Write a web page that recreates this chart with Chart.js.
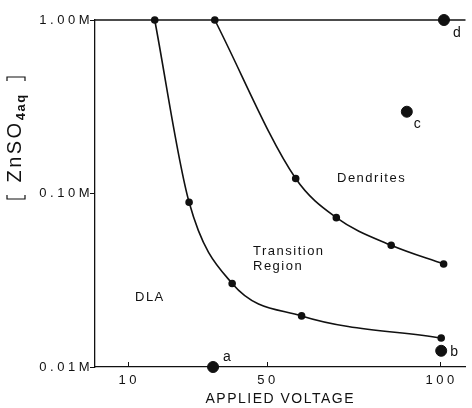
<!DOCTYPE html>
<html lang="en">
<head>
  <meta charset="UTF-8">
  <title>ZnSO4 growth regimes vs applied voltage</title>
  <script src="https://cdn.jsdelivr.net/npm/chart.js"></script>
  <style>
    body { margin: 0; background: #fff; }
    #wrap { width: 472px; height: 408px; }
  </style>
</head>
<body>
  <div id="wrap"><canvas id="regimeChart" width="472" height="408"></canvas></div>

  <script>
    // boundary DLA / transition region
    const dlaVolts = [17.8, 27.7, 40.1, 60.1, 100.3];
    const dlaConc = [1.0, 0.089, 0.0303, 0.0197, 0.0147];
    // boundary transition region / dendrites
    const dendVolts = [35.1, 58.4, 70.1, 85.9, 101.0];
    const dendConc = [1.0, 0.122, 0.0726, 0.0503, 0.0392];
    // labelled samples
    const sampleIds = ['a', 'b', 'c', 'd'];
    const sampleVolts = [34.6, 100.3, 90.4, 101.1];
    const sampleConc = [0.01, 0.0124, 0.296, 1.0];
    // axes
    const xTicks = [10, 50, 100];
    const xTickLabels = ['10', '50', '100'];
    const yTicks = [0.01, 0.1, 1];
    const yTickLabels = ['0.01M', '0.10M', '1.00M'];

    const ink = '#111';
    const font = '"Liberation Sans", Arial, sans-serif';

    const toPts = (xs, ys) => xs.map((x, i) => ({ x: x, y: ys[i] }));

    // old typewriter-ish lettering is widely tracked
    const tracking = {
      id: 'tracking',
      beforeDraw(chart) { chart.ctx.letterSpacing = '1.5px'; }
    };

    // extra drawing: top line, ticks, tick labels, region / point labels, y title
    const extras = {
      id: 'extras',
      afterDraw(chart) {
        const { ctx, chartArea, scales } = chart;
        const xs = scales.x, ys = scales.y;
        ctx.save();
        ctx.strokeStyle = ink;
        ctx.fillStyle = ink;
        ctx.lineWidth = 1.3;

        // 1.00M line across the top
        const yTop = ys.getPixelForValue(1);
        ctx.beginPath();
        ctx.moveTo(chartArea.left, yTop);
        ctx.lineTo(chartArea.right, yTop);
        ctx.stroke();

        // x ticks point up into the plot
        ctx.lineWidth = 1;
        xTicks.forEach(v => {
          const px = Math.round(xs.getPixelForValue(v)) + 0.5;
          ctx.beginPath();
          ctx.moveTo(px, chartArea.bottom);
          ctx.lineTo(px, chartArea.bottom - 5);
          ctx.stroke();
        });

        // tick labels
        ctx.letterSpacing = '3.5px';
        ctx.font = '13px ' + font;
        ctx.textBaseline = 'middle';
        ctx.textAlign = 'center';
        xTicks.forEach((v, i) => {
          ctx.fillText(xTickLabels[i], xs.getPixelForValue(v) + 1.5, 380);
        });
        ctx.textAlign = 'right';
        yTicks.forEach((v, i) => {
          ctx.fillText(yTickLabels[i], chartArea.left - 2, ys.getPixelForValue(v));
        });

        // sample letters
        ctx.letterSpacing = '1.5px';
        ctx.font = '14px ' + font;
        ctx.textAlign = 'left';
        const offs = { a: [10, -10], b: [9, 1], c: [7, 12], d: [9, 13] };
        const meta = chart.getDatasetMeta(2);
        meta.data.forEach((el, i) => {
          const o = offs[sampleIds[i]];
          ctx.fillText(sampleIds[i], el.x + o[0], el.y + o[1]);
        });

        // region names
        ctx.font = '13px ' + font;
        ctx.fillText('Dendrites', 337, 178);
        ctx.fillText('Transition', 253, 251);
        ctx.fillText('Region', 253, 266);
        ctx.fillText('DLA', 135, 297);

        // y axis title with subscript
        ctx.translate(16, 138);
        ctx.rotate(-Math.PI / 2);
        const big = '20px ' + font, small = 'bold 13px ' + font;
        ctx.letterSpacing = '2.5px';
        ctx.font = big;
        const w1 = ctx.measureText('ZnSO').width;
        ctx.font = small;
        ctx.letterSpacing = '1.5px';
        const w2 = ctx.measureText('4aq').width;
        const half = 61;
        const x0 = -(w1 + w2) / 2;
        // brackets
        ctx.lineWidth = 1.2;
        ctx.beginPath();
        ctx.moveTo(-half + 4, -9); ctx.lineTo(-half, -9); ctx.lineTo(-half, 9); ctx.lineTo(-half + 4, 9);
        ctx.moveTo(half - 4, -9); ctx.lineTo(half, -9); ctx.lineTo(half, 9); ctx.lineTo(half - 4, 9);
        ctx.stroke();
        ctx.letterSpacing = '2.5px';
        ctx.font = big;
        ctx.fillText('ZnSO', x0, -1);
        ctx.letterSpacing = '1.5px';
        ctx.font = small;
        ctx.fillText('4aq', x0 + w1, 5);
        ctx.restore();
      }
    };

    new Chart(document.getElementById('regimeChart'), {
      type: 'scatter',
      data: {
        datasets: [
          {
            data: toPts(dlaVolts, dlaConc),
            showLine: true,
            cubicInterpolationMode: 'monotone',
            borderColor: ink, backgroundColor: ink,
            borderWidth: 1.6, pointRadius: 3, clip: false
          },
          {
            data: toPts(dendVolts, dendConc),
            showLine: true,
            cubicInterpolationMode: 'monotone',
            borderColor: ink, backgroundColor: ink,
            borderWidth: 1.6, pointRadius: 3, clip: false
          },
          {
            data: toPts(sampleVolts, sampleConc),
            showLine: false,
            borderColor: ink, backgroundColor: ink,
            pointRadius: 5.5, clip: false
          }
        ]
      },
      options: {
        responsive: false,
        animation: false,
        layout: { padding: { top: 20, right: 0, left: 0, bottom: 0 } },
        plugins: { legend: { display: false }, tooltip: { enabled: false } },
        scales: {
          x: {
            type: 'linear',
            min: 0.6, max: 107.3,
            afterBuildTicks: s => { s.ticks = xTicks.map(v => ({ value: v })); },
            afterFit: s => { s.height = 41; },
            grid: { display: false, drawTicks: false },
            border: { color: ink, width: 1.3 },
            ticks: { display: false },
            title: {
              display: true, text: 'APPLIED VOLTAGE', color: ink,
              font: { family: font, size: 14 },
              padding: { top: 0, bottom: 0 }
            }
          },
          y: {
            type: 'logarithmic',
            min: 0.01, max: 1,
            afterBuildTicks: s => { s.ticks = yTicks.map(v => ({ value: v })); },
            afterFit: s => { s.width = 95; },
            grid: { drawOnChartArea: false, drawTicks: true, tickLength: 5, color: ink },
            border: { color: ink, width: 1.3 },
            ticks: { display: false }
          }
        }
      },
      plugins: [tracking, extras]
    });
  </script>
</body>
</html>
